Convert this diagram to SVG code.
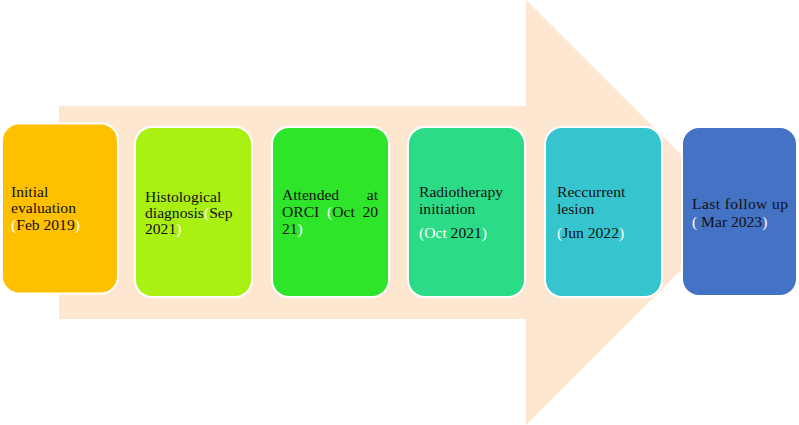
<svg xmlns="http://www.w3.org/2000/svg" width="799" height="425" viewBox="0 0 799 425">
<style>
.box{stroke:#ffffff;stroke-width:2}
.t{font-family:"Liberation Serif","Times New Roman",serif;font-size:15.6px;fill:#111111}
.w{fill:#ffffff}
</style>
<rect width="799" height="425" fill="#ffffff"/>
<g id="connectors">
<path id="arrow" d="M59,106 L526,106 L526,0 L739,212.5 L526,425 L526,319 L59,319 Z" fill="#FDE7D0"/>
</g>
<g id="n1">
<rect class="box" x="2" y="123.5" width="116" height="170" rx="17" fill="#FFC000"/>
<text class="t" x="11" y="197">Initial</text>
<text class="t" x="11" y="213">evaluation</text>
<text class="t" x="11" y="230"><tspan class="w">(</tspan>Feb 2019<tspan class="w">)</tspan></text>
</g>
<g id="n2">
<rect class="box" x="135" y="127" width="117" height="170" rx="17" fill="#AAF013"/>
<text class="t" x="145" y="202">Histological</text>
<text class="t" x="145" y="218">diagnosis<tspan class="w">(</tspan>Sep</text>
<text class="t" x="145" y="234">2021<tspan class="w">)</tspan></text>
</g>
<g id="n3">
<rect class="box" x="272" y="127" width="117" height="170" rx="17" fill="#2FE52A"/>
<text class="t" x="282" y="200">Attended</text>
<text class="t" x="378" y="200" text-anchor="end">at</text>
<text class="t" x="282" y="217">ORCI</text>
<text class="t" x="327" y="217"><tspan class="w">(</tspan>Oct</text>
<text class="t" x="378" y="217" text-anchor="end">20</text>
<text class="t" x="282" y="234">21<tspan class="w">)</tspan></text>
</g>
<g id="n4">
<rect class="box" x="408" y="127" width="117" height="170" rx="17" fill="#2CDB86"/>
<text class="t" x="419" y="197">Radiotherapy</text>
<text class="t" x="419" y="214">initiation</text>
<text class="t" x="419" y="238"><tspan class="w">(Oct </tspan>2021<tspan class="w">)</tspan></text>
</g>
<g id="n5">
<rect class="box" x="545" y="127" width="117" height="170" rx="17" fill="#36C5CF"/>
<text class="t" x="557" y="197">Reccurrent</text>
<text class="t" x="557" y="214">lesion</text>
<text class="t" x="557" y="238"><tspan class="w">(</tspan>Jun 2022<tspan class="w">)</tspan></text>
</g>
<g id="n6">
<rect class="box" x="682" y="127" width="115" height="169" rx="17" fill="#4472C4"/>
<text class="t" x="692" y="209" textLength="96" lengthAdjust="spacing">Last follow up</text>
<text class="t" x="692" y="227"><tspan class="w">(</tspan> Mar 2023<tspan class="w">)</tspan></text>
</g>
</svg>
